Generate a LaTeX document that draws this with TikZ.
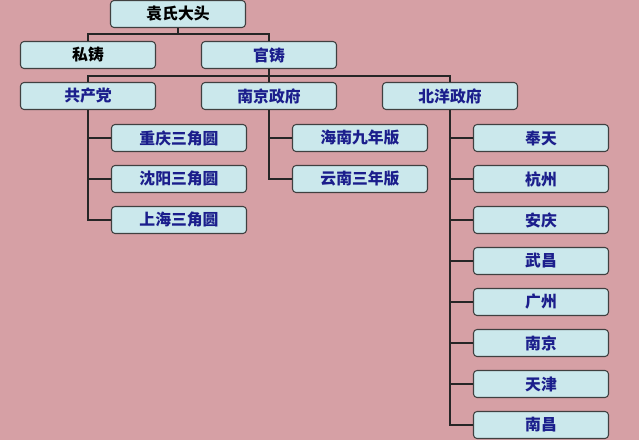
\documentclass[tikz,border=0pt]{standalone}
\usepackage{fontspec}
\newfontfamily\cjk{Noto Sans CJK SC}
\definecolor{bgpink}{HTML}{D6A0A5}
\definecolor{cellfill}{HTML}{CBE8EC}
\definecolor{cellink}{HTML}{1B1E8C}
\tikzset{
  cell/.style={draw=black!75, fill=cellfill, rounded corners=3pt, line width=0.9pt,
    minimum width=4.05cm, minimum height=0.81cm, inner sep=0pt,
    font=\cjk\bfseries\fontsize{13.5}{15}\selectfont, text=cellink},
  link/.style={line width=1.5pt, black!85}
}
\begin{document}
\begin{tikzpicture}[x=0.03cm, y=-0.03cm]
    \fill[bgpink] (0,0) rectangle (639,440);
    \useasboundingbox (0,0) rectangle (639,440);
    % top levels
    \node[cell, text=black] (yuan) at (178,14) {袁氏大头};
    \node[cell, text=black] (sizhu) at (88,55) {私铸};
    \node[cell] (guanzhu) at (269,55) {官铸};
    \node[cell] (gcd) at (88,96) {共产党};
    \node[cell] (nanjing) at (269,96) {南京政府};
    \node[cell] (beiyang) at (450,96) {北洋政府};
    \draw[link] (yuan.south) -- ++(0,6) -| (sizhu.north);
    \draw[link] (yuan.south) -- ++(0,6) -| (guanzhu.north);
    \foreach \p in {gcd,nanjing,beiyang} {
      \draw[link] (guanzhu.south) -- ++(0,7) -| (\p.north); }
    % children
    \foreach \t [count=\i] in {重庆三角圆,沈阳三角圆,上海三角圆} {
      \node[cell] (g\i) at (179,97+41*\i) {\t};
      \draw[link] (gcd.south) |- (g\i.west); }
    \foreach \t [count=\i] in {海南九年版,云南三年版} {
      \node[cell] (n\i) at (360,97+41*\i) {\t};
      \draw[link] (nanjing.south) |- (n\i.west); }
    \foreach \t [count=\i] in {奉天,杭州,安庆,武昌,广州,南京,天津,南昌} {
      \node[cell] (b\i) at (541,97+41*\i) {\t};
      \draw[link] (beiyang.south) |- (b\i.west); }
  \end{tikzpicture}
\end{document}
